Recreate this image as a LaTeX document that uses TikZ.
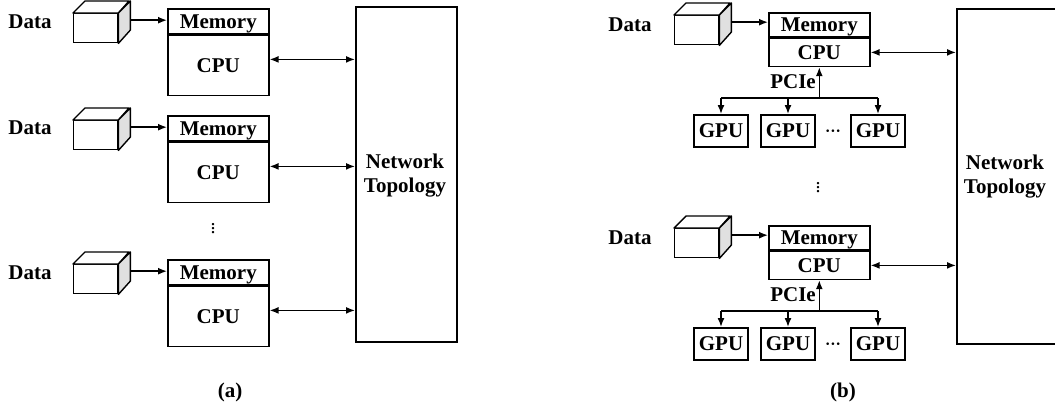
\documentclass[tikz,border=0pt]{standalone}
\usepackage{fontspec}
\setmainfont{Liberation Serif}
\usetikzlibrary{arrows.meta}
\definecolor{cubeside}{gray}{0.88}
\newcommand{\datacube}[3]{%
  \node[cubefront] (#1) at (#2,#3) {};
  \draw[cubeline, fill=white] (#1.north west) -- ++(12,-12) -- ++(44,0) -- (#1.north east) -- cycle;
  \draw[cubeline, fill=cubeside] (#1.north east) -- ++(12,-12) -- ++(0,29) -- (#1.south east) -- cycle;
  \coordinate (#1o) at ([xshift=12pt,yshift=8pt]#1.east);}
\begin{document}
\begin{tikzpicture}[x=1pt,y=-1pt,
  every node/.style={font=\fontsize{21}{24}\selectfont\bfseries, inner sep=0pt},
  box/.style={draw, line width=1.6pt, text height=14pt, text depth=0pt},
  memA/.style={box, minimum width=101pt, minimum height=25pt, anchor=north west},
  cpuA/.style={box, minimum width=101pt, minimum height=60pt, anchor=north},
  memB/.style={box, minimum width=101pt, minimum height=24pt, anchor=north west},
  cpuB/.style={box, minimum width=101pt, minimum height=28pt, anchor=north},
  gpubox/.style={box, minimum width=54pt, minimum height=32pt, anchor=north},
  netbox/.style={draw, line width=1.6pt, anchor=north west},
  cubefront/.style={draw, line width=1.4pt, fill=white, minimum width=44pt, minimum height=29pt, anchor=north west},
  cubeline/.style={line width=1.4pt, line join=round},
  lbl/.style={},
  hdots/.style={font=\fontsize{16}{16}\selectfont\bfseries, anchor=base},
  conn/.style={line width=1.5pt},
  arr/.style={conn, -{Latex[length=9pt,width=7pt]}},
  dbl/.style={conn, {Latex[length=9pt,width=7pt]}-{Latex[length=9pt,width=7pt]}},
  vdot/.style={font=\fontsize{20}{20}\selectfont}
]
\useasboundingbox (0,0) rectangle (1055,407);

% ---------------- panel (a) ----------------
\node[netbox, minimum width=101pt, minimum height=335pt] (na) at (355,6) {};
\node[lbl, align=center] (nat) at (405,176) {Network\\Topology};

% row 1
\node[lbl] (da1) at (30,22) {Data};
\datacube{ca1}{73}{13}
\node[memA] (ma1) at (167,8) {Memory};
\node[cpuA] (pa1) at (ma1.south) {CPU};
\draw[arr] (ca1o) -- (ca1o -| ma1.west);
\draw[dbl] ([yshift=6pt]pa1.east) -- ([yshift=6pt]pa1.east -| na.west);

% row 2
\node[lbl] (da2) at (30,128) {Data};
\datacube{ca2}{73}{120}
\node[memA] (ma2) at (167,115) {Memory};
\node[cpuA] (pa2) at (ma2.south) {CPU};
\draw[arr] (ca2o) -- (ca2o -| ma2.west);
\draw[dbl] ([yshift=6pt]pa2.east) -- ([yshift=6pt]pa2.east -| na.west);

\node[vdot] (va) at (213,226) {$\vdots$};

% row 3
\node[lbl] (da3) at (30,273) {Data};
\datacube{ca3}{73}{264}
\node[memA] (ma3) at (167,259) {Memory};
\node[cpuA] (pa3) at (ma3.south) {CPU};
\draw[arr] (ca3o) -- (ca3o -| ma3.west);
\draw[dbl] ([yshift=6pt]pa3.east) -- ([yshift=6pt]pa3.east -| na.west);

\node[lbl] (capa) at (230,392) {(a)};

% ---------------- panel (b) ----------------
\node[netbox, minimum width=110pt, minimum height=335pt] (nb) at (956,8) {};
\node[lbl, align=center] (nbt) at (1005,177) {Network\\Topology};

% row 1
\node[lbl] (db1) at (630,25) {Data};
\datacube{cb1}{674}{15}
\node[memB] (mb1) at (768,12) {Memory};
\node[cpuB] (pb1) at (mb1.south) {CPU};
\draw[arr] (cb1o) -- (cb1o -| mb1.west);
\draw[dbl] (pb1.east) -- (pb1.east -| nb.west);
\node[gpubox] (g11) at (721,114) {GPU};
\node[gpubox] (g12) at (788,114) {GPU};
\node[gpubox] (g13) at (878,114) {GPU};
\coordinate (j1) at (pb1.south |- 0,98);
\draw[conn] (g11.north |- j1) -- (g13.north |- j1);
\draw[arr] (j1) -- (pb1.south);
\draw[arr] (g11.north |- j1) -- (g11.north);
\draw[arr] (g12.north |- j1) -- (g12.north);
\draw[arr] (g13.north |- j1) -- (g13.north);
\node[lbl, anchor=east] (pc1) at (816,82) {PCIe};
\node[hdots] (gd1) at (833,136) {···};

\node[vdot] (vb) at (818,185) {$\vdots$};

% row 2
\node[lbl] (db2) at (630,238) {Data};
\datacube{cb2}{674}{228}
\node[memB] (mb2) at (768,225) {Memory};
\node[cpuB] (pb2) at (mb2.south) {CPU};
\draw[arr] (cb2o) -- (cb2o -| mb2.west);
\draw[dbl] (pb2.east) -- (pb2.east -| nb.west);
\node[gpubox] (g21) at (721,327) {GPU};
\node[gpubox] (g22) at (788,327) {GPU};
\node[gpubox] (g23) at (878,327) {GPU};
\coordinate (j2) at (pb2.south |- 0,311);
\draw[conn] (g21.north |- j2) -- (g23.north |- j2);
\draw[arr] (j2) -- (pb2.south);
\draw[arr] (g21.north |- j2) -- (g21.north);
\draw[arr] (g22.north |- j2) -- (g22.north);
\draw[arr] (g23.north |- j2) -- (g23.north);
\node[lbl, anchor=east] (pc2) at (816,295) {PCIe};
\node[hdots] (gd2) at (833,349) {···};

\node[lbl] (capb) at (843,392) {(b)};
\end{tikzpicture}
\end{document}
